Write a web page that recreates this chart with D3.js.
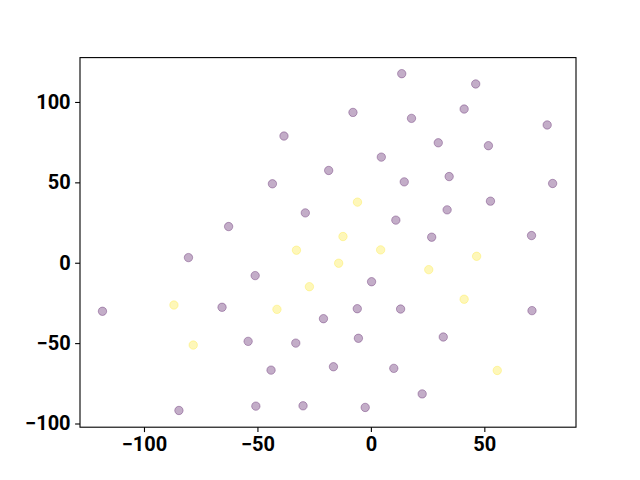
<!DOCTYPE html>
<html>
<head>
<meta charset="utf-8">
<script src="https://cdn.jsdelivr.net/npm/d3@7"></script>
<style>
  body { margin: 0; background: #fff; }
  #grafiek text { font-family: Roboto, "Liberation Sans", sans-serif; font-weight: bold; }
</style>
</head>
<body>
<div id="grafiek"></div>
<script>
// Punten uit de afbeelding (x, y, klasse 0 = paars, 1 = geel)
const pointX = [13.6, 46.2, -7.9, 17.9, 41.1, 77.7, -38.3, 29.7, 51.8, 4.6,
  -18.6, 34.5, -43.4, 14.7, 80.1, -28.9, 11.0, 52.7, 33.6, -62.7,
  26.8, 70.8, -80.4, 0.3, -51.0, -118.3, -65.6, -6.0, 13.1, 71.0,
  -20.9, -54.1, -33.1, -5.5, 31.9, -44.0, -16.5, 10.1, 22.6, -84.6,
  -50.7, -29.9, -2.5,
  -5.9, -32.8, -12.3, 4.3, -14.2, -27.1, 25.5, 46.6, -86.8, -41.4,
  41.1, -78.3, 55.7];
const pointY = [117.6, 111.2, 93.5, 89.8, 95.6, 85.7, 78.8, 74.6, 72.8, 65.7,
  57.4, 53.6, 49.1, 50.3, 49.3, 31.0, 26.5, 38.3, 32.9, 22.5,
  15.9, 16.9, 3.2, -11.8, -8.0, -30.2, -27.7, -28.6, -28.8, -29.8,
  -34.8, -48.9, -50.0, -47.0, -46.2, -66.8, -64.7, -65.7, -81.6, -91.9,
  -89.2, -89.0, -90.0,
  37.7, 7.8, 16.3, 8.0, -0.3, -14.9, -4.3, 4.0, -26.3, -29.0,
  -22.7, -51.2, -67.0];
const pointClass = [0, 0, 0, 0, 0, 0, 0, 0, 0, 0,
  0, 0, 0, 0, 0, 0, 0, 0, 0, 0,
  0, 0, 0, 0, 0, 0, 0, 0, 0, 0,
  0, 0, 0, 0, 0, 0, 0, 0, 0, 0,
  0, 0, 0,
  1, 1, 1, 1, 1, 1, 1, 1, 1, 1,
  1, 1, 1];

const xTicks = [-100, -50, 0, 50];
const yTicks = [-100, -50, 0, 50, 100];
const xDomain = [-128.2, 90.4];
const yDomain = [-102.3, 127.6];
const classColors = ['#440154', '#fde725'];

const data = pointX.map((x, i) => ({ x: x, y: pointY[i], c: pointClass[i] }));

// Afmetingen zoals matplotlib standaard
const margin = { top: 57.6, right: 64, bottom: 52.8, left: 80 },
  width = 640 - margin.left - margin.right,
  height = 480 - margin.top - margin.bottom;

const svg = d3.select('#grafiek')
  .append('svg')
  .attr('width', 640)
  .attr('height', 480)
  .append('g')
  .attr('transform', `translate(${margin.left}, ${margin.top})`);

const x = d3.scaleLinear().domain(xDomain).range([0, width]);
const y = d3.scaleLinear().domain(yDomain).range([height, 0]);

const fmt = d => d < 0 ? '\u2212' + Math.abs(d) : String(d);

// punten
svg.append('g')
  .selectAll('circle')
  .data(data)
  .enter()
  .append('circle')
    .attr('cx', d => x(d.x))
    .attr('cy', d => y(d.y))
    .attr('r', 4.2)
    .style('fill', d => classColors[d.c])
    .style('fill-opacity', 0.32)
    .style('stroke', d => classColors[d.c])
    .style('stroke-opacity', 0.32)
    .style('stroke-width', 1);

// X as
const xAxis = svg.append('g')
  .attr('transform', `translate(0, ${height})`)
  .call(d3.axisBottom(x).tickValues(xTicks).tickFormat(fmt).tickSize(4.9).tickPadding(4.5).tickSizeOuter(0));

// Y as
const yAxis = svg.append('g')
  .call(d3.axisLeft(y).tickValues(yTicks).tickFormat(fmt).tickSize(4.9).tickPadding(4.5).tickSizeOuter(0));

[xAxis, yAxis].forEach(a => {
  a.select('.domain').remove();
  a.selectAll('line').attr('stroke', '#000').attr('stroke-width', 1.1);
  a.selectAll('text').attr('fill', '#000').style('font-size', '20px');
});

// kader
svg.append('rect')
  .attr('width', width)
  .attr('height', height)
  .attr('fill', 'none')
  .attr('stroke', '#000')
  .attr('stroke-width', 1.1);
</script>
</body>
</html>
